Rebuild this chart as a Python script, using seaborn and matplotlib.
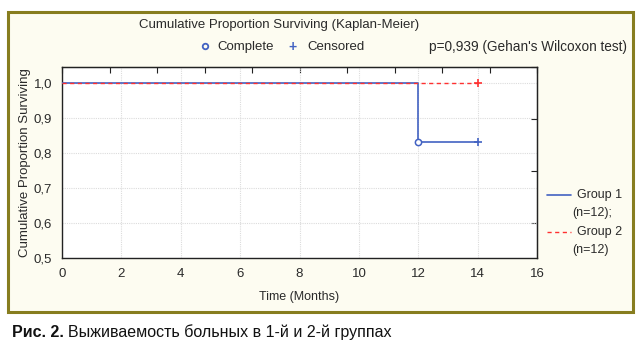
import numpy as np
import pandas as pd
import matplotlib
matplotlib.use("Agg")
import matplotlib.pyplot as plt
from matplotlib.patches import Rectangle
from matplotlib.lines import Line2D
from matplotlib.ticker import FuncFormatter, MultipleLocator
import seaborn as sns

# Kaplan-Meier estimates
group1_time = [0, 12, 14]
group1_surv = [1.0, 0.833, 0.833]
group2_time = [0, 14]
group2_surv = [1.0, 1.0]

# event / censoring marks
complete_time = [12]
complete_surv = [0.833]
censored1_time = [14]
censored1_surv = [0.833]
censored2_time = [14]
censored2_surv = [1.0]

x_ticks = [0, 2, 4, 6, 8, 10, 12, 14, 16]
y_ticks = [0.5, 0.6, 0.7, 0.8, 0.9, 1.0]
group_labels = ["Group 1", "Group 2"]
group_sizes = ["(n=12);", "(n=12)"]

BLUE = "#4262c2"
RED = "#ff3030"
OLIVE = "#877d1f"
CREAM = "#fdfcf1"
TXT = "#2a2a2a"

sns.set_style("white")
plt.rcParams['font.family'] = ['Liberation Sans', 'DejaVu Sans']

fig = plt.figure(figsize=(6.42, 3.51), dpi=100)
fig.patch.set_facecolor("white")

# outer framed panel
fig.patches.append(Rectangle((0.0125, 0.111), 0.9735, 0.855, transform=fig.transFigure,
                             facecolor=CREAM, edgecolor=OLIVE, linewidth=2.2, zorder=-1))

ax = fig.add_axes([0.0966, 0.265, 0.74, 0.544])
ax.set_zorder(2)
ax.set_facecolor("white")

df1 = pd.DataFrame({"time": group1_time, "surv": group1_surv})
df2 = pd.DataFrame({"time": group2_time, "surv": group2_surv})

sns.lineplot(data=df1, x="time", y="surv", ax=ax, color=BLUE, linewidth=1.2,
             drawstyle="steps-post", zorder=3)
sns.lineplot(data=df2, x="time", y="surv", ax=ax, color=RED, linewidth=1.0,
             linestyle=(0, (3, 2.5)), drawstyle="steps-post", zorder=4)

ax.plot(complete_time, complete_surv, "o", mfc="white", mec=BLUE, ms=4.5, mew=1.1, zorder=5)
ax.plot(censored1_time, censored1_surv, "+", color=BLUE, ms=6, mew=1.2, zorder=5)
ax.plot(censored2_time, censored2_surv, "+", color=RED, ms=6, mew=1.2, zorder=5)

ax.set_xlim(0, 16)
ax.set_ylim(0.5, 1.046)
ax.set_xticks(x_ticks)
ax.set_yticks(y_ticks)
ax.yaxis.set_major_formatter(FuncFormatter(lambda v, p: f"{v:.1f}".replace(".", ",")))
ax.grid(True, color="#dcdcdc", linestyle=(0, (1, 1)), linewidth=0.8)
ax.tick_params(axis="both", labelsize=9.5, colors=TXT, length=3, direction="in")
ax.tick_params(axis="x", pad=7)
ax.tick_params(axis="y", pad=7)
for s in ax.spines.values():
    s.set_color("#222222")
    s.set_linewidth(1.0)

# Statistica-style independent ticks on top and right edges
top = ax.secondary_xaxis("top")
top.xaxis.set_major_locator(MultipleLocator(1.6))
top.tick_params(direction="in", length=4, labeltop=False, color="#222222")
right = ax.secondary_yaxis("right", functions=(lambda v: 1.046 - v, lambda v: 1.046 - v))
right.yaxis.set_major_locator(MultipleLocator(0.1486))
right.tick_params(direction="in", length=4, labelright=False, color="#222222")

ax.set_xlabel("Time (Months)", fontsize=9, color=TXT, labelpad=8)
ax.set_ylabel("Cumulative Proportion Surviving", fontsize=9.5, color=TXT, labelpad=2)

# header texts
fig.text(0.435, 0.929, "Cumulative Proportion Surviving (Kaplan-Meier)", ha="center", va="center",
         fontsize=9.5, color=TXT)
fig.add_artist(Line2D([0.319], [0.868], transform=fig.transFigure, marker="o", ms=4,
                      mfc="none", mec=BLUE, mew=1.3, linestyle="none"))
fig.text(0.339, 0.866, "Complete", ha="left", va="center", fontsize=9.5, color=TXT)
fig.text(0.456, 0.866, "+", ha="center", va="center", fontsize=10, fontweight="bold", color=BLUE)
fig.text(0.479, 0.866, "Censored", ha="left", va="center", fontsize=9.5, color=TXT)
fig.text(0.977, 0.866, "p=0,939 (Gehan's Wilcoxon test)", ha="right", va="center",
         fontsize=9.8, color=TXT)

# side legend
fig.add_artist(Line2D([0.852, 0.889], [0.444, 0.444], transform=fig.transFigure,
                      color=BLUE, linewidth=1.2))
fig.add_artist(Line2D([0.852, 0.889], [0.339, 0.339], transform=fig.transFigure,
                      color=RED, linewidth=1.0, linestyle=(0, (3, 2.5))))
fig.text(0.898, 0.444, group_labels[0], ha="left", va="center", fontsize=9, color=TXT)
fig.text(0.892, 0.393, group_sizes[0], ha="left", va="center", fontsize=9, color=TXT)
fig.text(0.898, 0.339, group_labels[1], ha="left", va="center", fontsize=9, color=TXT)
fig.text(0.892, 0.288, group_sizes[1], ha="left", va="center", fontsize=9, color=TXT)

# caption
fig.text(0.018, 0.054, "Рис. 2.", ha="left", va="center", fontsize=11.5, fontweight="bold",
         color="#111111")
fig.text(0.106, 0.054, "Выживаемость больных в 1-й и 2-й группах", ha="left", va="center",
         fontsize=11.5, color="#111111")

fig.savefig("out.png", dpi=100, facecolor="white")
